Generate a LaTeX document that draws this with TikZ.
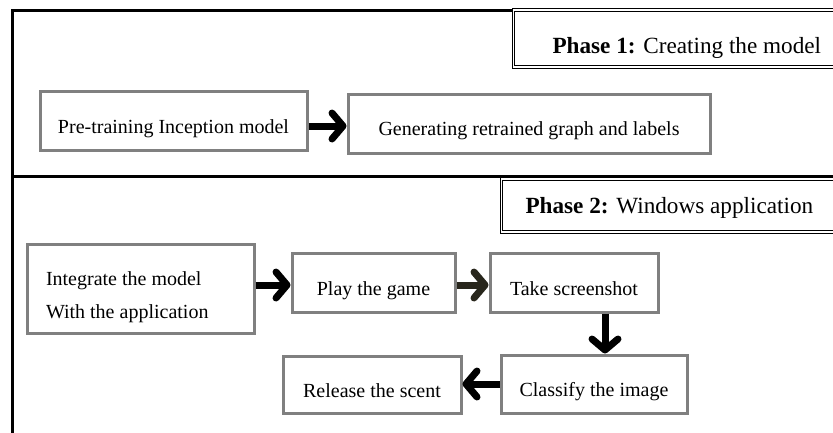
\documentclass[tikz,border=0pt]{standalone}
\usepackage{fontspec}
\setmainfont{Liberation Serif}
\usetikzlibrary{arrows.meta,calc}
\newcommand{\boxfnt}{\fontsize{20}{24}\selectfont}
\newcommand{\twofnt}{\fontsize{20}{33}\selectfont}
\newcommand{\titlefnt}{\fontsize{23.2}{28}\selectfont}
\definecolor{boxgray}{HTML}{808080}
\begin{document}
\begin{tikzpicture}[x=1pt,y=-1pt,
  frame/.style={draw=black,line width=3pt},
  stepbox/.style={draw=boxgray,line width=3pt,fill=white,rectangle,inner sep=2pt,
     font=\boxfnt,text height=30pt,text depth=5pt},
  titlebox/.style={draw=black,double=white,double distance=1.5pt,line width=1pt,fill=white,
     rectangle,anchor=west,align=flush left,text width=360pt,font=\titlefnt,inner ysep=2pt},
  arr/.style={line width=7pt,-{Straight Barb[length=11pt,width=26pt,round]}},
]
\useasboundingbox (0,0) rectangle (833,432);
\clip (0,0) rectangle (833,432);
\fill[white] (0,0) rectangle (833,432);
% phase frames
\draw[frame] (12,10) rectangle (900,176);
\draw[frame] (12,176) rectangle (900,470);
% titles
\node[titlebox,minimum height=57pt,inner xsep=39pt,text height=34pt,text depth=5pt] (t1) at (513,38.5)
  {\textbf{Phase 1:} Creating the model};
\node[titlebox,minimum height=53pt,inner xsep=24pt,text height=20pt,text depth=5pt] (t2) at (501,205.5)
  {\textbf{Phase 2:} Windows application};
% phase 1 boxes
\node[stepbox,minimum width=267pt,minimum height=59pt] (pre) at (173.5,120.5) {Pre-training Inception model};
\node[stepbox,minimum width=362pt,minimum height=59pt,text height=28pt] (gen) at (529,123.5) {Generating retrained graph and labels};
% phase 2 boxes
\node[stepbox,minimum width=227pt,minimum height=89pt,text width=189pt,inner xsep=19pt,align=flush left,
  font=\twofnt,text height=30pt,text depth=37pt] (integ) at (140.5,288.5) {Integrate the model\\With the application};
\node[stepbox,minimum width=163pt,minimum height=59pt] (play) at (373.5,282.5) {Play the game};
\node[stepbox,minimum width=168pt,minimum height=59pt] (take) at (574,282.5) {Take screenshot};
\node[stepbox,minimum width=186pt,minimum height=58pt] (classify) at (594,384) {Classify the image};
\node[stepbox,minimum width=178pt,minimum height=57pt,text height=31pt] (release) at (372,384.5) {Release the scent};
% arrows
\draw[arr] ([yshift=-5.5pt]pre.east) -- ([yshift=-5.5pt]pre.east -| gen.west);
\draw[arr] ([yshift=3.5pt]integ.east) -- ([yshift=3.5pt]integ.east -| play.west);
\draw[arr,draw={rgb,255:red,40;green,38;blue,28}] ([yshift=-2.5pt]play.east) -- ([yshift=-2.5pt]play.east -| take.west);
\draw[arr] ([xshift=31pt]take.south) -- ([xshift=31pt]take.south |- classify.north);
\draw[arr] (classify.west) -- (classify.west -| release.east);
\end{tikzpicture}
\end{document}
